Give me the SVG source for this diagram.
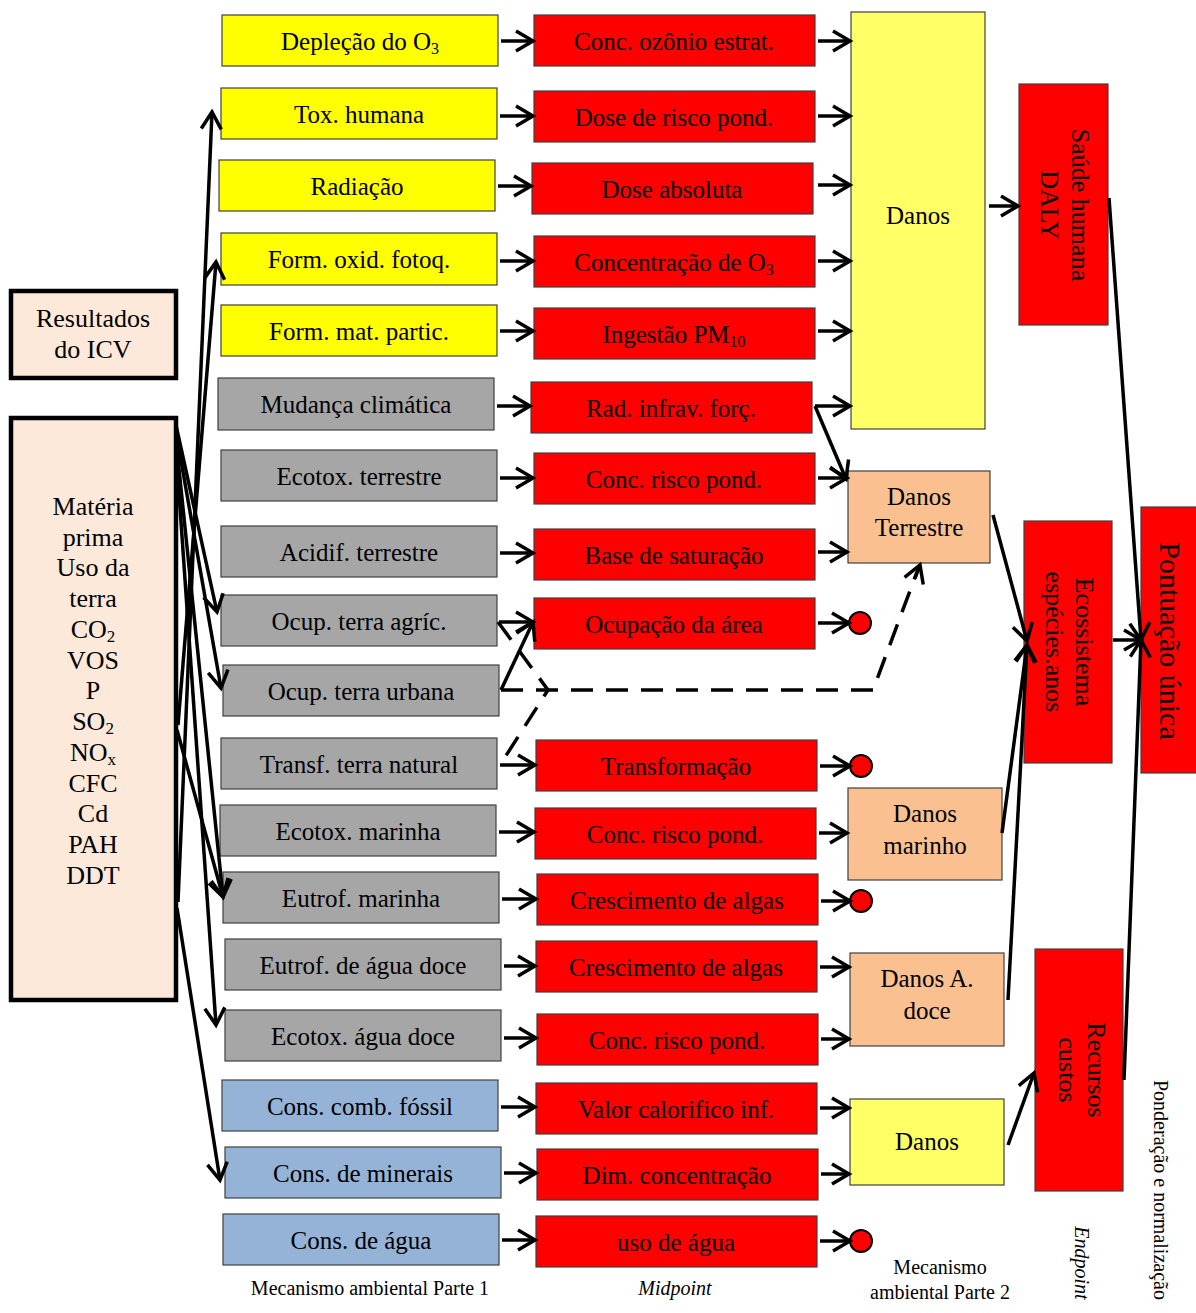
<svg xmlns="http://www.w3.org/2000/svg" width="1196" height="1313" viewBox="0 0 1196 1313">
<style>
  text { font-family: "Liberation Serif", "Times New Roman", serif; fill: #000; }
  .t { font-size: 25px; text-anchor: middle; }
  .lbl { font-size: 20px; text-anchor: middle; }
  .box { stroke: #404040; stroke-width: 1.2; }
  .yel { fill: #ffff00; }
  .gry { fill: #a6a6a6; }
  .blu { fill: #95b3d7; }
  .red { fill: #ff0000; }
  .lyel { fill: #ffff66; }
  .pch { fill: #fac090; }
  .icv { fill: #fde9d9; stroke: #000; stroke-width: 4.5; }
  .c { stroke: #000; stroke-width: 3.5; fill: none; marker-end: url(#ah); }
  .l { stroke: #000; stroke-width: 3.5; fill: none; }
  .d { stroke: #000; stroke-width: 3.5; fill: none; stroke-dasharray: 22 13; }
  .dot { fill: #ff0000; stroke: #000; stroke-width: 2; }
</style>
<defs>
  <marker id="ah" markerUnits="userSpaceOnUse" markerWidth="26" markerHeight="26" viewBox="0 0 26 26" refX="21" refY="13" orient="auto" overflow="visible">
    <path d="M4,3 L21,13 L4,23" fill="none" stroke="#000" stroke-width="3.5"/>
  </marker>
</defs>
<rect width="1196" height="1313" fill="#fff"/>

<!-- inventory boxes -->
<g id="icv-title">
  <rect class="icv" x="11" y="291" width="165" height="87"/>
  <text class="t" x="93" y="327" style="font-size:26px">Resultados</text>
  <text class="t" x="93" y="358" style="font-size:26px">do ICV</text>
</g>
<g id="icv-list">
  <rect class="icv" x="11" y="418" width="165" height="582"/>
  <text class="t" x="93" y="515" style="font-size:26px">Matéria</text>
  <text class="t" x="93" y="546" style="font-size:26px">prima</text>
  <text class="t" x="93" y="576" style="font-size:26px">Uso da</text>
  <text class="t" x="93" y="607" style="font-size:26px">terra</text>
  <text class="t" x="93" y="638" style="font-size:26px">CO<tspan font-size="17" dy="4">2</tspan></text>
  <text class="t" x="93" y="669" style="font-size:26px">VOS</text>
  <text class="t" x="93" y="699" style="font-size:26px">P</text>
  <text class="t" x="93" y="730" style="font-size:26px">SO<tspan font-size="17" dy="4">2</tspan></text>
  <text class="t" x="93" y="761" style="font-size:26px">NO<tspan font-size="17" dy="4">x</tspan></text>
  <text class="t" x="93" y="792" style="font-size:26px">CFC</text>
  <text class="t" x="93" y="822" style="font-size:26px">Cd</text>
  <text class="t" x="93" y="853" style="font-size:26px">PAH</text>
  <text class="t" x="93" y="884" style="font-size:26px">DDT</text>
</g>

<!-- impact categories -->
<g id="cat-depl"><rect class="box yel" x="222" y="15" width="276" height="51"/><text class="t" x="360" y="50">Depleção do O<tspan font-size="16" dy="4">3</tspan></text></g>
<g id="cat-toxh"><rect class="box yel" x="221" y="88" width="276" height="51"/><text class="t" x="359" y="123">Tox. humana</text></g>
<g id="cat-rad"><rect class="box yel" x="219" y="160" width="276" height="51"/><text class="t" x="357" y="195">Radiação</text></g>
<g id="cat-oxid"><rect class="box yel" x="221" y="233" width="276" height="52"/><text class="t" x="359" y="268">Form. oxid. fotoq.</text></g>
<g id="cat-pm"><rect class="box yel" x="221" y="305" width="276" height="51"/><text class="t" x="359" y="340">Form. mat. partic.</text></g>
<g id="cat-clima"><rect class="box gry" x="218" y="378" width="276" height="52"/><text class="t" x="356" y="413">Mudança climática</text></g>
<g id="cat-ecoter"><rect class="box gry" x="221" y="450" width="276" height="51"/><text class="t" x="359" y="485">Ecotox. terrestre</text></g>
<g id="cat-acid"><rect class="box gry" x="221" y="526" width="276" height="51"/><text class="t" x="359" y="561">Acidif. terrestre</text></g>
<g id="cat-agric"><rect class="box gry" x="221" y="595" width="276" height="51"/><text class="t" x="359" y="630">Ocup. terra agríc.</text></g>
<g id="cat-urb"><rect class="box gry" x="223" y="665" width="276" height="51"/><text class="t" x="361" y="700">Ocup. terra urbana</text></g>
<g id="cat-transf"><rect class="box gry" x="221" y="738" width="276" height="51"/><text class="t" x="359" y="773">Transf. terra natural</text></g>
<g id="cat-ecomar"><rect class="box gry" x="220" y="805" width="276" height="51"/><text class="t" x="358" y="840">Ecotox. marinha</text></g>
<g id="cat-eutmar"><rect class="box gry" x="223" y="872" width="276" height="51"/><text class="t" x="361" y="907">Eutrof. marinha</text></g>
<g id="cat-eutdoce"><rect class="box gry" x="225" y="939" width="276" height="51"/><text class="t" x="363" y="974">Eutrof. de água doce</text></g>
<g id="cat-ecodoce"><rect class="box gry" x="225" y="1010" width="276" height="51"/><text class="t" x="363" y="1045">Ecotox. água doce</text></g>
<g id="cat-fossil"><rect class="box blu" x="222" y="1080" width="276" height="51"/><text class="t" x="360" y="1115">Cons. comb. fóssil</text></g>
<g id="cat-miner"><rect class="box blu" x="225" y="1147" width="276" height="51"/><text class="t" x="363" y="1182">Cons. de minerais</text></g>
<g id="cat-agua"><rect class="box blu" x="223" y="1214" width="276" height="51"/><text class="t" x="361" y="1249">Cons. de água</text></g>

<!-- midpoint indicators -->
<g id="mid-ozon"><rect class="box red" x="534" y="15" width="281" height="51"/><text class="t" x="674" y="50">Conc. ozônio estrat.</text></g>
<g id="mid-dose"><rect class="box red" x="534" y="91" width="281" height="51"/><text class="t" x="674" y="126">Dose de risco pond.</text></g>
<g id="mid-absol"><rect class="box red" x="532" y="163" width="281" height="51"/><text class="t" x="672" y="198">Dose absoluta</text></g>
<g id="mid-o3"><rect class="box red" x="534" y="236" width="281" height="51"/><text class="t" x="674" y="271">Concentração de O<tspan font-size="16" dy="4">3</tspan></text></g>
<g id="mid-pm10"><rect class="box red" x="534" y="308" width="281" height="51"/><text class="t" x="674" y="343">Ingestão PM<tspan font-size="16" dy="4">10</tspan></text></g>
<g id="mid-infrav"><rect class="box red" x="531" y="382" width="281" height="51"/><text class="t" x="671" y="417">Rad. infrav. forç.</text></g>
<g id="mid-riscoter"><rect class="box red" x="534" y="453" width="281" height="51"/><text class="t" x="674" y="488">Conc. risco pond.</text></g>
<g id="mid-satur"><rect class="box red" x="534" y="529" width="281" height="51"/><text class="t" x="674" y="564">Base de saturação</text></g>
<g id="mid-ocup"><rect class="box red" x="534" y="598" width="281" height="51"/><text class="t" x="674" y="633">Ocupação da área</text></g>
<g id="mid-transf"><rect class="box red" x="536" y="740" width="281" height="51"/><text class="t" x="676" y="775">Transformação</text></g>
<g id="mid-riscomar"><rect class="box red" x="535" y="808" width="281" height="51"/><text class="t" x="675" y="843">Conc. risco pond.</text></g>
<g id="mid-algasmar"><rect class="box red" x="537" y="874" width="281" height="51"/><text class="t" x="677" y="909">Crescimento de algas</text></g>
<g id="mid-algasdoce"><rect class="box red" x="536" y="941" width="281" height="51"/><text class="t" x="676" y="976">Crescimento de algas</text></g>
<g id="mid-riscodoce"><rect class="box red" x="537" y="1014" width="281" height="51"/><text class="t" x="677" y="1049">Conc. risco pond.</text></g>
<g id="mid-calor"><rect class="box red" x="536" y="1083" width="281" height="51"/><text class="t" x="676" y="1118">Valor calorifico inf.</text></g>
<g id="mid-dimconc"><rect class="box red" x="537" y="1149" width="281" height="51"/><text class="t" x="677" y="1184">Dim. concentração</text></g>
<g id="mid-usoagua"><rect class="box red" x="536" y="1216" width="281" height="51"/><text class="t" x="676" y="1251">uso de água</text></g>

<!-- terminal dots -->
<g id="dot-ocup"><circle class="dot" cx="860" cy="623" r="11"/></g>
<g id="dot-transf"><circle class="dot" cx="861" cy="766" r="11"/></g>
<g id="dot-algas"><circle class="dot" cx="861" cy="901" r="11"/></g>
<g id="dot-agua"><circle class="dot" cx="861" cy="1241" r="11"/></g>

<!-- damage boxes -->
<g id="dmg-saude"><rect class="box lyel" x="851" y="12" width="134" height="417"/><text class="t" x="918" y="224">Danos</text></g>
<g id="dmg-terr"><rect class="box pch" x="848" y="471" width="142" height="92"/><text class="t" x="919" y="505">Danos</text><text class="t" x="919" y="536">Terrestre</text></g>
<g id="dmg-mar"><rect class="box pch" x="848" y="788" width="154" height="92"/><text class="t" x="925" y="822">Danos</text><text class="t" x="925" y="854">marinho</text></g>
<g id="dmg-doce"><rect class="box pch" x="850" y="953" width="154" height="93"/><text class="t" x="927" y="987">Danos A.</text><text class="t" x="927" y="1019">doce</text></g>
<g id="dmg-rec"><rect class="box lyel" x="850" y="1099" width="154" height="86"/><text class="t" x="927" y="1150">Danos</text></g>

<!-- endpoints -->
<g id="end-saude">
  <rect class="box red" x="1019" y="84" width="89" height="241"/>
  <g transform="translate(1064,205) rotate(90)"><text class="t" x="0" y="-8" style="font-size:26px">Saúde humana</text><text class="t" x="0" y="23" style="font-size:26px">DALY</text></g>
</g>
<g id="end-eco">
  <rect class="box red" x="1024" y="521" width="88" height="242"/>
  <g transform="translate(1068,642) rotate(90)"><text class="t" x="0" y="-8" style="font-size:26px">Ecossistema</text><text class="t" x="0" y="22" style="font-size:26px">espécies.anos</text></g>
</g>
<g id="end-rec">
  <rect class="box red" x="1035" y="949" width="88" height="242"/>
  <g transform="translate(1080,1070) rotate(90)"><text class="t" x="0" y="-8" style="font-size:26px">Recursos</text><text class="t" x="0" y="21" style="font-size:26px">custos</text></g>
</g>
<g id="score">
  <rect class="box red" x="1141" y="507" width="60" height="266"/>
  <g transform="translate(1170,641) rotate(90)"><text class="t" x="0" y="10" style="font-size:30px">Pontuação única</text></g>
</g>

<!-- connectors -->
<g id="connectors">
  <!-- inventory to categories -->
  <line class="c" x1="178" y1="902" x2="212" y2="112"/>
  <line class="c" x1="178" y1="725" x2="216" y2="262"/>
  <line class="c" x1="176" y1="425" x2="217" y2="612"/>
  <line class="c" x1="176" y1="432" x2="221" y2="688"/>
  <line class="c" x1="176" y1="440" x2="223" y2="897"/>
  <line class="c" x1="177" y1="730" x2="223" y2="897"/>
  <line class="c" x1="176" y1="450" x2="216" y2="1025"/>
  <line class="c" x1="177" y1="908" x2="220" y2="1180"/>

  <!-- categories to midpoints -->
  <line class="c" x1="501" y1="41" x2="533" y2="41"/>
  <line class="c" x1="500" y1="116" x2="533" y2="116"/>
  <line class="c" x1="498" y1="186" x2="531" y2="186"/>
  <line class="c" x1="500" y1="261" x2="533" y2="261"/>
  <line class="c" x1="500" y1="331" x2="533" y2="331"/>
  <line class="c" x1="497" y1="406" x2="530" y2="406"/>
  <line class="c" x1="500" y1="478" x2="533" y2="478"/>
  <line class="c" x1="500" y1="553" x2="533" y2="553"/>
  <line class="c" x1="499" y1="622" x2="533" y2="622"/>
  <line class="c" x1="501" y1="690" x2="533" y2="622"/>
  <line class="c" x1="500" y1="765" x2="535" y2="765"/>
  <line class="c" x1="499" y1="832" x2="534" y2="832"/>
  <line class="c" x1="502" y1="899" x2="536" y2="899"/>
  <line class="c" x1="504" y1="966" x2="535" y2="966"/>
  <line class="c" x1="504" y1="1038" x2="536" y2="1038"/>
  <line class="c" x1="501" y1="1107" x2="535" y2="1107"/>
  <line class="c" x1="504" y1="1173" x2="536" y2="1173"/>
  <line class="c" x1="502" y1="1240" x2="535" y2="1240"/>

  <!-- land use paths -->
  <polyline class="d" points="498,622 548,690 500,765"/>
  <polyline class="d" points="501,690 873,690 917,572"/>
  <line class="c" x1="915" y1="578" x2="920" y2="565"/>

  <!-- midpoints to damage -->
  <line class="c" x1="818" y1="41" x2="850" y2="41"/>
  <line class="c" x1="818" y1="116" x2="850" y2="116"/>
  <line class="c" x1="818" y1="185" x2="850" y2="185"/>
  <line class="c" x1="818" y1="261" x2="850" y2="261"/>
  <line class="c" x1="818" y1="331" x2="850" y2="331"/>
  <line class="c" x1="815" y1="406" x2="850" y2="406"/>
  <line class="c" x1="815" y1="406" x2="846" y2="479"/>
  <line class="c" x1="818" y1="478" x2="847" y2="478"/>
  <line class="c" x1="818" y1="552" x2="847" y2="552"/>
  <line class="c" x1="818" y1="623" x2="849" y2="623"/>
  <line class="c" x1="820" y1="766" x2="850" y2="766"/>
  <line class="c" x1="819" y1="833" x2="847" y2="833"/>
  <line class="c" x1="821" y1="901" x2="850" y2="901"/>
  <line class="c" x1="820" y1="967" x2="849" y2="967"/>
  <line class="c" x1="821" y1="1039" x2="849" y2="1039"/>
  <line class="c" x1="820" y1="1108" x2="849" y2="1108"/>
  <line class="c" x1="821" y1="1174" x2="849" y2="1174"/>
  <line class="c" x1="820" y1="1241" x2="850" y2="1241"/>

  <!-- damage to endpoints -->
  <line class="c" x1="989" y1="206" x2="1018" y2="206"/>
  <line class="c" x1="993" y1="515" x2="1027" y2="641"/>
  <line class="c" x1="1002" y1="833" x2="1027" y2="645"/>
  <line class="c" x1="1008" y1="1000" x2="1027" y2="645"/>
  <line class="c" x1="1008" y1="1145" x2="1034" y2="1073"/>

  <!-- endpoints to single score -->
  <line class="c" x1="1109" y1="198" x2="1141" y2="640"/>
  <line class="c" x1="1113" y1="640" x2="1141" y2="640"/>
  <line class="c" x1="1124" y1="1080" x2="1141" y2="640"/>
</g>

<!-- stage labels -->
<g id="labels">
  <text class="lbl" x="370" y="1295">Mecanismo ambiental Parte 1</text>
  <text class="lbl" x="675" y="1295" font-style="italic">Midpoint</text>
  <text class="lbl" x="940" y="1274">Mecanismo</text>
  <text class="lbl" x="940" y="1299">ambiental Parte 2</text>
  <g transform="translate(1075,1263) rotate(90)"><text class="lbl" x="0" y="0" font-style="italic">Endpoint</text></g>
  <g transform="translate(1154,1080) rotate(90)"><text x="0" y="0" style="font-size:20px">Ponderação e normalização</text></g>
</g>
</svg>
